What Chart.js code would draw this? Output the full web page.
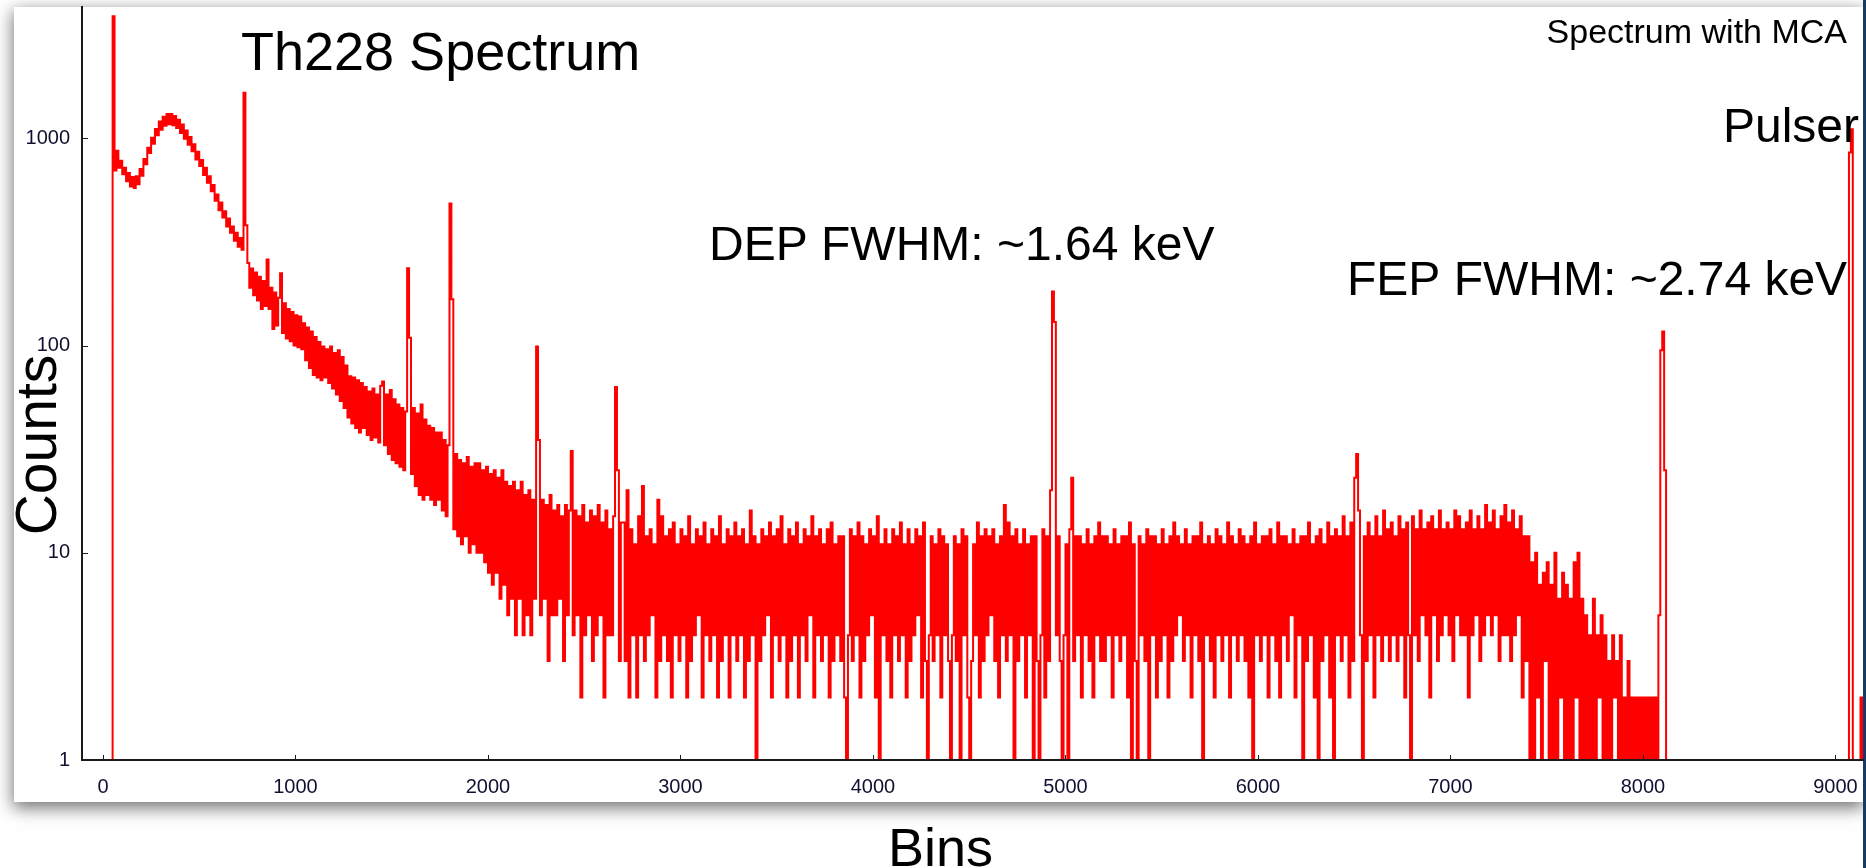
<!DOCTYPE html>
<html>
<head>
<meta charset="utf-8">
<script src="https://cdn.jsdelivr.net/npm/chart.js@4.4.0/dist/chart.umd.min.js"></script>
<style>
  html, body { margin: 0; padding: 0; width: 1866px; height: 868px; overflow: hidden; background: #ffffff; }
  #frame { position: absolute; left: 14px; top: 7px; width: 1849px; height: 795px; background: #ffffff;
           box-shadow: 0 5px 16px 1px rgba(0,0,0,0.55); }
  #edge { position: absolute; left: 1863px; top: 0; width: 3px; height: 868px; background: #173a66; }
  #c { position: absolute; left: 0; top: 0; }
</style>
</head>
<body>
<div id="frame"></div>
<div id="edge"></div>
<canvas id="c" width="1866" height="868"></canvas>
<script>
// ---------------- data (counts per 10-bin group) ----------------
const BIN_GROUP = 10;
const segmentStartBins = [0, 750, 2700, 5200, 7400, 8120];

// bins 0 - 749 : threshold spike, low-energy hump, 238 keV line
const lowEnergyCounts = [
  0,0,0,0,0,
  3880,
  700,870,720,780,670,720,620,680,585,650,
  575,655,600,710,660,795,750,900,850,1005,
  940,1110,1035,1205,1100,1270,1150,1310,1170,1310,
  1155,1280,1120,1230,1060,1165,995,1090,930,1015,
  865,935,790,860,735,785,665,720,610,655,
  555,595,500,535,450,490,415,445,375,410,
  350,375,320,350,300,330,290,1660,380
];

// bins 750 - 2699 : falling Compton continuum with lines
const comptonCounts = [
  250,190,235,175,225,165,215,150,205,155,
  260,150,190,120,180,125,170,223,115,160,
  108,150,105,145,100,140,98,138,96,128,
  85,122,78,117,72,110,70,104,68,99,
  70,96,66,99,62,92,58,95,54,88,
  50,80,45,71,42,70,40,68,38,66,
  40,63,37,60,35,62,36,58,34,64,
  67,33,58,30,61,28,55,27,52,26,
  50,25,48,236,109,24,50,21,47,19,
  52,18,44,19,41,18,40,17,38,18,
  38,16,35,15,33,484,167,13,30,12,
  28,11,27,12,29,10,26,11,27,10,
  27,10,25,9,26,8,24,7,25,8,
  23,6,25,7,22,5,21,6,22,4,
  20,6,22,4,19,5,20,4,18,6,
  99,35,5,18,6,17,3,19,5,16,
  5,17,6,15,3,17,5,16,31,4,
  16,5,15,2,17,4,14,5,16,3,
  15,4,17,5,14,2,16,4,13,4,
  15,63,25,3,14
];

// bins 2700 - 5199 : flat plateau incl. DEP
const plateauCountsA = [
  14,3,20,2,13,4,11,2,15,4,
  21,3,12,4,13,5,11,2,18,3,
  15,4,12,3,13,2,14,4,11,3,
  13,4,12,2,15,3,11,4,13,5,
  12,2,14,4,11,3,13,4,12,2,
  15,3,11,4,13,2,12,4,14,3,
  12,4,13,2,11,3,16,4,12,0,
  11,3,13,4,12,5,14,2,12,4,
  13,3,15,4,11,2,13,3,12,4,
  14,2,11,4,13,3,12,5,15,2,
  12,4,13,3,11,4,13,2,14,3,
  11,4,12,3,12,2,0,4,13,3,
  12,4,14,2,12,3,11,4,13,5,
  12,2,15,0,11,4,13,3,11,2,
  13,4,12,3,14,4,11,2,13,3,
  11,4,13,5,12,2,14,3,0,4,
  12,3,11,4,13,2,12,4,11,3,
  0,4,12,3,11,0,13,4,12,2,
  0,3,11,4,14,2,12,3,13,4,
  12,5,13,3,11,2,12,4,17,3,
  14,4,12,0,13,3,11,4,13,2,
  11,4,12,0,12,3,0,4,13,2,
  12,3,20,182,130,4,12,3,0,4,
  11,0,13,23,3,12,4,12,2,11,
  4,13,3,11,2,12,4,14,3,12
];

// bins 5200 - 7399 : plateau up to the Compton edge
const plateauCountsB = [
  3,12,4,11,2,13,4,11,3,12,
  4,12,2,14,0,11,3,0,12,4,
  11,3,13,0,12,4,12,2,11,3,
  13,4,11,2,12,3,14,4,12,5,
  11,3,13,4,11,2,12,4,12,3,
  14,0,11,4,12,3,11,2,13,4,
  12,3,11,4,14,2,12,4,11,3,
  13,4,12,3,11,2,12,0,14,4,
  11,3,12,4,12,2,13,4,11,3,
  14,2,12,4,12,3,11,5,13,2,
  11,4,12,0,12,3,14,4,11,2,
  12,0,13,3,11,4,14,2,12,0,
  13,4,12,3,15,4,12,2,14,3,
  23,30,16,4,0,12,3,14,4,12,
  2,15,4,12,3,16,4,13,3,14,
  4,12,3,15,4,13,2,14,4,0,
  15,4,13,3,16,5,13,4,14,2,
  15,5,13,3,16,4,13,5,14,4,
  13,3,16,5,15,4,13,4,14,2,
  16,4,13,5,15,3,13,4,17,5,
  14,4,16,5,13,3,15,4,17,4,
  14,3,16,4,13,5,15,2,12,3
];

// bins 7400 - 8119 : Compton edge fall-off and FEP
const edgeCounts = [
  12,1,9,0,10,2,7,0,8,3,
  9,0,7,1,10,0,6,2,8,0,
  7,1,6,0,9,2,10,0,6,1,
  5,0,4,1,6,0,4,2,5,0,
  4,1,3,0,4,2,3,0,4,1,
  2,0,3,1,2,0,2,1,2,0,
  2,1,2,0,2,1,2,0,
  5,95,117,25
];

// bins 8120 - 9149 : empty region and pulser
const tailCounts = [
  0,0,0,0,0,0,0,0,0,0,
  0,0,0,0,0,0,0,0,0,0,
  0,0,0,0,0,0,0,0,0,0,
  0,0,0,0,0,0,0,0,0,0,
  0,0,0,0,0,0,0,0,0,0,
  0,0,0,0,0,0,0,0,0,0,
  0,0,0,0,0,0,0,0,0,0,
  0,0,0,0,0,0,0,0,0,0,
  0,0,0,0,0,0,0,0,0,0,
  0,0,0,0,0,
  855,1105,
  0,0,0,0,
  2,0
];

const xTickValues = [0,1000,2000,3000,4000,5000,6000,7000,8000,9000];
const yTickValues = [1,2,5,8,10,20,50,80,100,200,500,800,1000,2000];
const yLabelledTicks = [1,10,100,1000];

const annotationTexts = [
  { text: 'Th228 Spectrum',      x: 241,  y: 70,  size: 54, align: 'left' },
  { text: 'Spectrum with MCA',   x: 1847, y: 43,  size: 34, align: 'right' },
  { text: 'Pulser',              x: 1859, y: 142, size: 48, align: 'right' },
  { text: 'DEP FWHM: ~1.64 keV', x: 709,  y: 260, size: 48, align: 'left' },
  { text: 'FEP FWHM: ~2.74 keV', x: 1347, y: 295, size: 48, align: 'left' },
  { text: 'Bins',                x: 888,  y: 866, size: 54, align: 'left' },
  { text: 'Counts',              x: 56,   y: 445, size: 57, align: 'center', rotate: -Math.PI / 2 }
];

// ---------------- build dataset ----------------
const segments = [lowEnergyCounts, comptonCounts, plateauCountsA, plateauCountsB, edgeCounts, tailCounts];
const spectrumPoints = [];
segments.forEach((arr, s) => {
  arr.forEach((c, k) => {
    // empty bins sit on the floor of the log axis
    spectrumPoints.push({ x: segmentStartBins[s] + k * BIN_GROUP + BIN_GROUP / 2, y: Math.max(c, 1) });
  });
});

const FONT = "'Liberation Sans', Arial, sans-serif";
Chart.defaults.font.family = FONT;

const tickMarkPlugin = {
  id: 'tickMarks',
  afterDatasetsDraw(chart) {
    const { ctx, chartArea } = chart;
    const xs = chart.scales.x, ys = chart.scales.y;
    ctx.save();
    ctx.strokeStyle = '#1a1a1a';
    ctx.lineWidth = 1;
    ctx.beginPath();
    xs.ticks.forEach(t => {
      const px = Math.round(xs.getPixelForValue(t.value)) + 0.5;
      ctx.moveTo(px, chartArea.bottom);
      ctx.lineTo(px, chartArea.bottom - 5);
    });
    ys.ticks.forEach(t => {
      const py = Math.round(ys.getPixelForValue(t.value)) + 0.5;
      const len = yLabelledTicks.includes(t.value) ? 6 : 3;
      ctx.moveTo(chartArea.left, py);
      ctx.lineTo(chartArea.left + len, py);
    });
    ctx.stroke();
    ctx.restore();
  }
};

const annotationPlugin = {
  id: 'annotationTexts',
  afterDraw(chart) {
    const ctx = chart.ctx;
    annotationTexts.forEach(a => {
      ctx.save();
      ctx.fillStyle = '#000000';
      ctx.font = a.size + 'px ' + FONT;
      ctx.textAlign = a.align;
      ctx.textBaseline = 'alphabetic';
      ctx.translate(a.x, a.y);
      if (a.rotate) ctx.rotate(a.rotate);
      ctx.fillText(a.text, 0, 0);
      ctx.restore();
    });
  }
};

new Chart(document.getElementById('c'), {
  type: 'line',
  data: {
    datasets: [{
      label: 'Th228',
      data: spectrumPoints,
      borderColor: '#ff0000',
      borderWidth: 2,
      pointRadius: 0,
      stepped: 'middle',
      fill: false
    }]
  },
  options: {
    responsive: false,
    animation: false,
    devicePixelRatio: 1,
    events: [],
    layout: { padding: { left: 0, top: 7, right: 3, bottom: 0 } },
    plugins: { legend: { display: false }, title: { display: false }, tooltip: { enabled: false } },
    scales: {
      x: {
        type: 'linear',
        min: -109,
        max: 9143,
        grid: { display: false, drawTicks: false },
        border: { display: true, color: '#1a1a1a', width: 2, z: 1 },
        ticks: {
          autoSkip: false, maxRotation: 0, minRotation: 0, padding: 15,
          color: '#101030', font: { size: 20, family: FONT },
          callback: v => String(v)
        },
        afterBuildTicks: s => { s.ticks = xTickValues.map(v => ({ value: v })); },
        afterFit: s => { s.height = 108; s.paddingLeft = 0; s.paddingRight = 0; }
      },
      y: {
        type: 'logarithmic',
        min: 1,
        max: 4300,
        grid: { display: false, drawTicks: false },
        border: { display: true, color: '#1a1a1a', width: 2, z: 1 },
        ticks: {
          autoSkip: false, padding: 12,
          color: '#101030', font: { size: 20, family: FONT },
          callback: v => (yLabelledTicks.includes(v) ? String(v) : null)
        },
        afterBuildTicks: s => { s.ticks = yTickValues.map(v => ({ value: v })); },
        afterFit: s => { s.width = 82; s.paddingTop = 0; s.paddingBottom = 0; }
      }
    }
  },
  plugins: [tickMarkPlugin, annotationPlugin]
});
</script>
</body>
</html>
